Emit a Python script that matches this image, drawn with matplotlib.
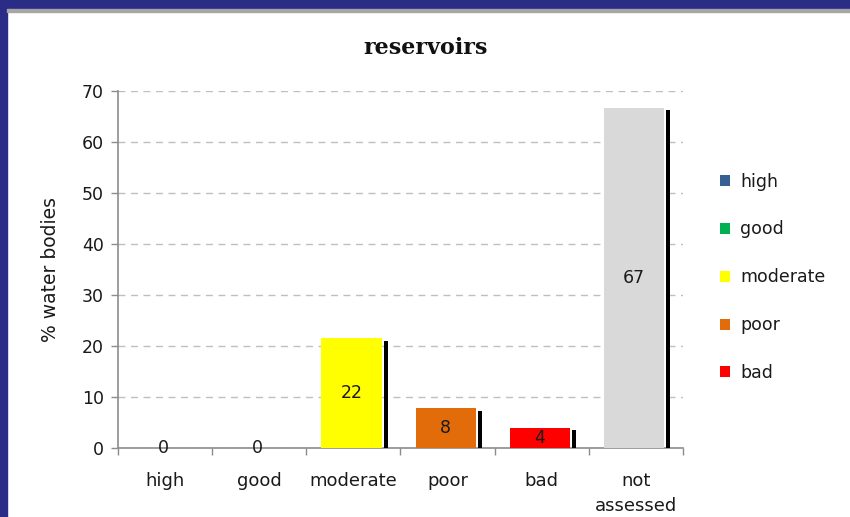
import matplotlib
matplotlib.use("Agg")
import matplotlib.pyplot as plt
from matplotlib.patches import Patch, Rectangle

categories = ["high", "good", "moderate", "poor", "bad", "not\nassessed"]
values = [0, 0, 21.5, 7.8, 3.9, 66.7]
value_labels = ["0", "0", "22", "8", "4", "67"]
shadow_values = [0, 0, 21.0, 7.3, 3.5, 66.3]
bar_colors = ["#376092", "#00B050", "#FFFF00", "#E36C0A", "#FF0000", "#D9D9D9"]
legend_labels = ["high", "good", "moderate", "poor", "bad"]
yticks = [0, 10, 20, 30, 40, 50, 60, 70]

plt.rcParams["font.family"] = "DejaVu Sans"
text_color = "#1a1a1a"

fig = plt.figure(figsize=(8.5, 5.17), dpi=100)
fig.patch.set_facecolor("white")

# slide background strips (left and top)
fig.add_artist(Rectangle((0, 0), 7 / 850, 1, transform=fig.transFigure,
                         color="#2B2C86", zorder=0))
fig.add_artist(Rectangle((0, 1 - 9 / 517), 1, 9 / 517, transform=fig.transFigure,
                         color="#2B2C86", zorder=0))
fig.add_artist(Rectangle((7 / 850, 1 - 12 / 517), 1, 2.5 / 517, transform=fig.transFigure,
                         color="#A6A6A6", zorder=0))

ax = fig.add_axes([118 / 850, 1 - 448 / 517, 565 / 850, 357 / 517])

x = list(range(len(categories)))
ax.bar([i - 0.02 for i in x], values, width=0.64, color=bar_colors,
       edgecolor="none", zorder=3)
ax.bar([i + 0.32 for i in x], shadow_values, width=0.045, align="edge",
       color="black", zorder=3)

for i, (v, lab) in enumerate(zip(values, value_labels)):
    ax.text(i - 0.02, v / 2, lab, ha="center", va="center", fontsize=12.5,
            color=text_color, zorder=4)

ax.set_xlim(-0.5, 5.5)
ax.set_ylim(0, 70)
ax.set_yticks(yticks)
ax.set_xticks(x)
ax.set_xticklabels(categories, fontsize=13, color=text_color, linespacing=1.55)
ax.set_xticks([i - 0.5 for i in range(len(categories) + 1)], minor=True)
ax.tick_params(axis="x", which="major", length=0, pad=17)
ax.tick_params(axis="x", which="minor", length=5, color="#8C8C8C", width=1)
ax.tick_params(axis="y", length=5, color="#8C8C8C", width=1, labelsize=12.5,
               labelcolor=text_color, pad=5)

ax.grid(axis="y", color="#BFBFBF", linestyle=(0, (5, 4)), linewidth=1, zorder=0)
for s in ["top", "right"]:
    ax.spines[s].set_visible(False)
for s in ["left", "bottom"]:
    ax.spines[s].set_color("#8C8C8C")
    ax.spines[s].set_linewidth(1.2)

ax.set_ylabel("% water bodies", fontsize=13.5, color=text_color, labelpad=16)
fig.text(426 / 850, 1 - 48 / 517, "reservoirs", ha="center", va="center",
         fontsize=16, fontweight="bold", family="DejaVu Serif", color="#111111")

handles = [Patch(facecolor=c, edgecolor="none") for c in bar_colors[:5]]
fig.legend(handles, legend_labels, loc="upper left",
           bbox_to_anchor=(704 / 850, 1 - 157 / 517), frameon=False,
           fontsize=12.5, handlelength=0.6, handleheight=0.6,
           handletextpad=0.6, labelspacing=1.72, labelcolor=text_color)

fig.savefig("out.png", dpi=100)
